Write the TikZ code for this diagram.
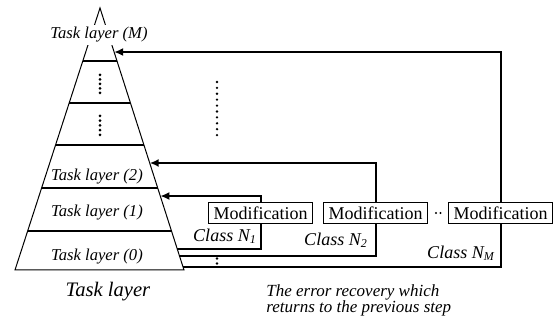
\documentclass[tikz,border=0pt]{standalone}
\usepackage{fontspec}
\setmainfont{Liberation Serif}
\usetikzlibrary{arrows.meta,calc,backgrounds}

\begin{document}
\begin{tikzpicture}[x=0.5pt,y=-0.5pt,
    layerlabel/.style={font=\fontsize{8.3}{9}\selectfont\itshape},
    modbox/.style={draw,fill=white,line width=0.5pt,inner xsep=2.5pt,inner ysep=0pt,
        minimum height=10.5pt,font=\fontsize{9}{10}\selectfont},
    classlabel/.style={font=\fontsize{9}{10}\selectfont\itshape},
    backline/.style={line width=1pt,-{Latex[length=4.5pt,width=4pt]}}]
    \useasboundingbox (0,0) rectangle (556,325);

    % Draw the task pyramid
    \coordinate (apex) at (100,8);
    \coordinate (bl) at (15,270);
    \coordinate (br) at (184,270);
    \draw[line width=0.5pt] (bl) -- (apex) -- (br) -- cycle;

    % Layer boundaries
    \foreach \t in {0.2023,0.3626,0.5229,0.687,0.8511} {
        \draw[line width=1pt] ($(apex)!\t!(bl)$) -- ($(apex)!\t!(br)$);
    }

    % Layer labels
    \node[layerlabel,fill=white,inner sep=1pt] (layerM) at (99,35) {Task layer (M)};
    \node[layerlabel] (layer2) at (97,177) {Task layer (2)};
    \node[layerlabel] (layer1) at (97,213) {Task layer (1)};
    \node[layerlabel] (layer0) at (97,257) {Task layer (0)};

    % Skipped layers
    \foreach \y in {75,79.5,84,88.5,93,116,120.75,125.5,130.25,135} {
        \fill (100,\y) circle (0.75pt);
    }
    \foreach \i in {0,...,9} {
        \fill (217,82+5.9*\i) circle (0.65pt); % dotted column between loops
    }

    % Where the loops enter and leave the pyramid
    \coordinate (inM) at ($(apex)!0.168!(br)$);
    \coordinate (in2) at ($(apex)!0.5916!(br)$);
    \coordinate (in1) at ($(apex)!0.7176!(br)$);
    \coordinate (out1) at ($(apex)!0.9198!(br)$);
    \coordinate (out2) at ($(apex)!0.9466!(br)$);
    \coordinate (outM) at ($(apex)!0.9885!(br)$);

    % Modification steps
    \node[modbox] (mod1) at (260.5,213) {Modification};
    \node[modbox] (mod2) at (375.5,213) {Modification};
    \node[modbox] (modM) at (500.5,213) {Modification};
    \fill (436,213) circle (0.6pt) (440.5,213) circle (0.6pt);

    % Error recovery loops
    \begin{scope}[on background layer]
        \draw[backline] (out1) -- (out1 -| mod1) -- (mod1 |- in1) -- (in1);
        \draw[backline] (out2) -- (out2 -| mod2) -- (mod2 |- in2) -- (in2);
        \draw[backline] (outM) -- (outM -| modM) -- (modM |- inM) -- (inM);
    \end{scope}
    \fill (217,258.5) circle (0.65pt) (217,263.5) circle (0.65pt);

    % Class labels
    \node[classlabel] (class1) at (225,236) {Class N\textsubscript{1}};
    \node[classlabel] (class2) at (336,240) {Class N\textsubscript{2}};
    \node[classlabel] (classM) at (461,253) {Class N\textsubscript{M}};

    % Captions
    \node[font=\fontsize{10.3}{12}\selectfont\itshape] (capLayer) at (108,292) {Task layer};
    \node[anchor=north west,align=left,font=\fontsize{8.5}{8}\selectfont\itshape,inner sep=0pt]
        (capLoop) at (266,284) {The error recovery which\\returns to the previous step};
\end{tikzpicture}
\end{document}
